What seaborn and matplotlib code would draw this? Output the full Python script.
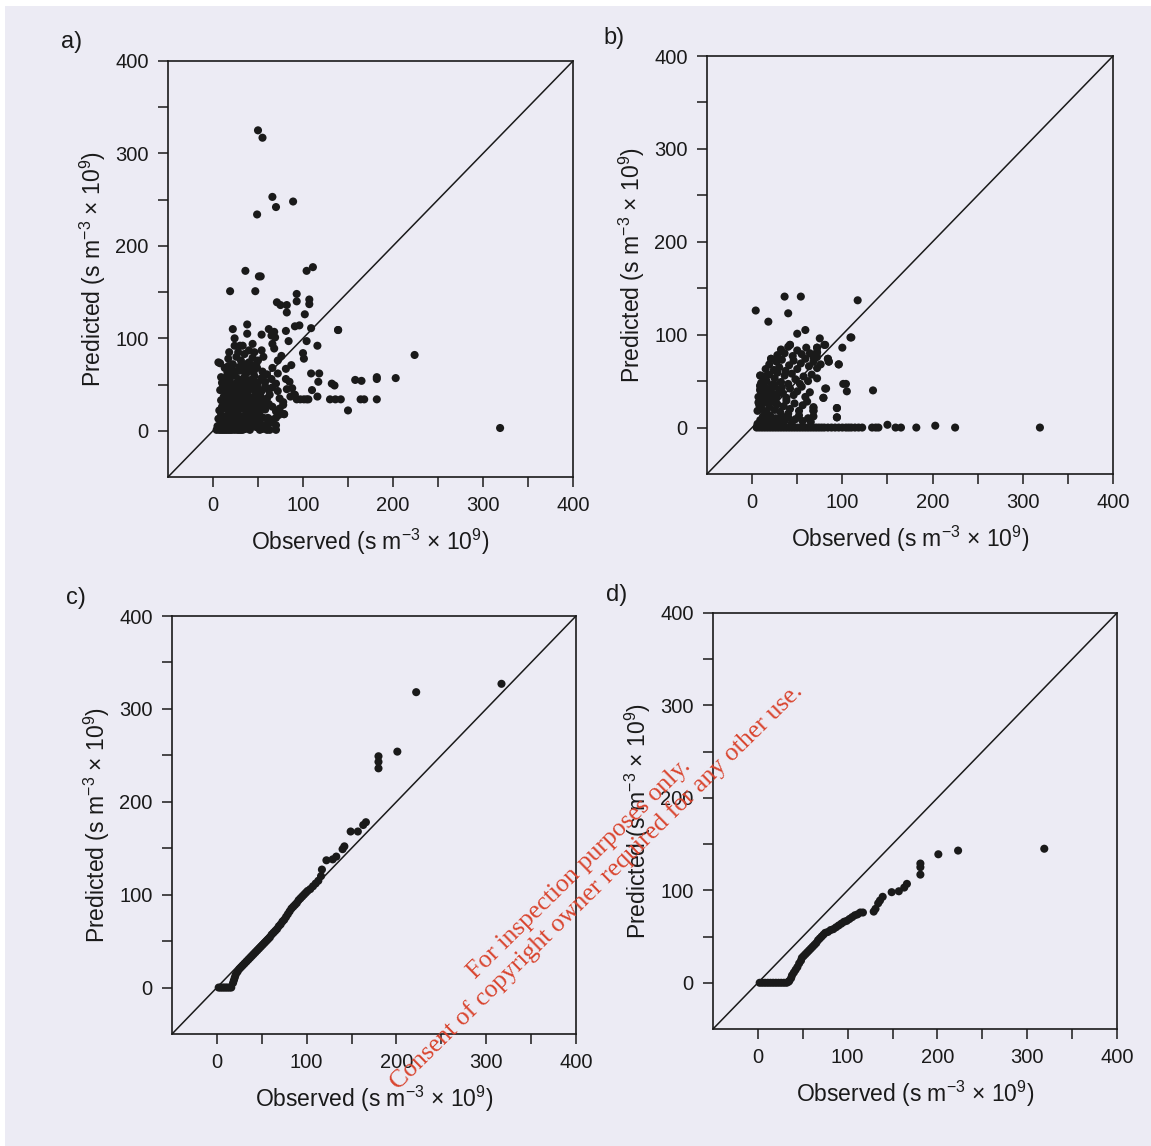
"""Observed vs predicted scatter panels (a-d) with 1:1 line."""

import matplotlib.pyplot as plt
import pandas as pd
import seaborn as sns
from matplotlib.patches import Rectangle

# ---- data (s m^-3 x 10^9) ----
# panel a: scattered cloud
a_observed = [
    50, 55, 66, 70, 89, 49, 36, 51, 53, 19, 47, 104, 111, 71, 75, 82, 82, 93, 93,
    107, 107, 102, 139, 224, 109, 118, 117, 132, 135, 158, 165, 182, 182, 203,
    110, 116, 150, 79, 93, 104, 130, 136, 142, 164, 168, 182, 319,
    4, 7, 9, 11, 13, 15, 17, 19, 21, 24, 27, 29, 31, 33, 36, 41, 52, 55, 60, 63, 70,
    5, 8, 12, 14, 18, 22, 26, 30, 34, 38, 44, 48, 52, 58, 61, 66, 70,
    6, 9, 12, 15, 19, 21, 24, 27, 31, 34, 38, 41, 45, 49, 52, 56, 61, 66, 70, 79, 73,
    7, 10, 13, 16, 18, 22, 25, 28, 30, 33, 36, 39, 42, 45, 48, 51, 55, 58, 62, 66, 70, 74, 78,
    9, 12, 15, 18, 21, 24, 27, 30, 32, 35, 38, 41, 44, 47, 50, 53, 57, 60, 63, 74, 78, 86, 91, 97, 101, 106,
    8, 11, 14, 17, 20, 23, 26, 29, 32, 35, 38, 41, 44, 47, 50, 54, 58, 62, 66, 72, 82, 88, 90,
    10, 14, 18, 21, 25, 28, 31, 35, 38, 42, 46, 50, 54, 58, 65, 70, 81, 85,
    9, 16, 20, 24, 29, 33, 37, 41, 45, 49, 55, 60, 66, 72,
    6, 8, 17, 22, 26, 31, 35, 40, 44, 48, 50, 56, 72, 76, 81, 87,
    18, 24, 28, 30, 33, 40, 44, 46, 54, 68, 66, 84, 104, 116, 100, 101,
    22, 24, 38, 38, 54, 65, 68, 69, 81, 91, 96, 109, 139, 62,
    12, 16, 20, 24, 28, 32, 36, 40, 44, 48, 14, 18, 22, 26, 30, 34, 38, 42, 46, 50,
    11, 15, 19, 23, 27, 31, 35, 39, 43, 47, 13, 17, 21, 25, 29, 33, 37, 41, 45,
]
a_predicted = [
    325, 317, 253, 242, 248, 234, 173, 167, 167, 151, 151, 173, 177, 139, 136, 136, 128, 148, 140,
    142, 137, 126, 109, 82, 62, 62, 53, 51, 49, 55, 54, 58, 56, 57,
    44, 37, 22, 18, 34, 34, 34, 34, 34, 34, 34, 34, 3,
    1, 1, 1, 1, 1, 1, 1, 1, 1, 1, 1, 1, 1, 1, 2, 1, 1, 2, 1, 1, 1,
    5, 7, 4, 8, 6, 9, 5, 7, 9, 5, 8, 4, 8, 6, 8, 9, 6,
    13, 17, 12, 16, 11, 18, 14, 19, 12, 16, 19, 13, 17, 12, 17, 14, 14, 12, 14, 18, 17,
    22, 26, 24, 29, 21, 25, 28, 22, 27, 24, 29, 21, 26, 23, 28, 21, 26, 23, 29, 26, 21, 24, 28,
    33, 37, 31, 35, 39, 32, 36, 39, 31, 35, 38, 32, 36, 39, 33, 37, 31, 35, 39, 35, 31, 37, 39, 34, 34, 34,
    44, 47, 41, 45, 49, 42, 46, 49, 43, 47, 41, 45, 49, 42, 46, 43, 48, 44, 47, 43, 45, 46, 39,
    52, 57, 54, 59, 51, 56, 53, 58, 51, 55, 59, 52, 57, 53, 56, 51, 56, 53,
    58, 63, 67, 61, 65, 69, 62, 66, 63, 68, 64, 61, 68, 62,
    74, 73, 78, 72, 80, 76, 83, 74, 79, 72, 76, 80, 76, 81, 67, 71,
    85, 92, 85, 92, 92, 87, 94, 85, 87, 89, 94, 97, 97, 92, 84, 78,
    110, 100, 105, 115, 104, 103, 107, 101, 108, 113, 114, 111, 109, 110,
    10, 8, 12, 9, 11, 7, 10, 12, 8, 11, 30, 28, 32, 29, 31, 27, 30, 33, 28, 31,
    50, 48, 52, 47, 51, 49, 53, 47, 50, 52, 68, 70, 66, 64, 69, 65, 72, 67, 70,
]

# panel b: cloud with many predictions at zero
b_observed = [
    4, 18, 36, 40, 54, 117, 50, 59, 42, 21, 9, 9, 75, 81, 72, 72, 72, 109, 110, 100,
    84, 85, 96, 101, 104, 105, 134, 82, 79, 94, 94, 68, 68,
    5, 8, 11, 14, 17, 20, 23, 26, 29, 32, 35, 38, 41, 44, 47, 50, 53, 56, 59, 62, 65, 68,
    71, 74, 77, 80, 84, 88, 92, 96, 100, 104, 107, 110, 114, 118, 122, 133, 137, 140,
    150, 159, 165, 182, 203, 225, 319,
    6, 9, 12, 14, 17, 20, 23, 26, 30, 33, 36, 40, 44, 48, 52, 56, 62, 65, 68, 94, 40,
    6, 8, 11, 13, 16, 19, 22, 25, 28, 31, 35, 38, 42, 47, 52, 56, 61, 68, 68, 79, 94,
    7, 9, 12, 14, 18, 21, 24, 27, 30, 34, 38, 42, 46, 50, 55, 59, 64, 81, 9,
    10, 13, 16, 19, 22, 25, 28, 32, 36, 40, 44, 48, 53, 57, 62, 66, 72, 9,
    15, 19, 24, 27, 30, 33, 37, 41, 46, 50, 54, 59, 63, 68, 72, 76, 84, 85, 96, 21,
    28, 32, 36, 40, 45, 50, 55, 60, 64, 68, 72, 72, 80, 42,
    6, 8, 10, 12, 14, 16, 18, 20, 22, 24, 26, 28, 30, 32,
    7, 11, 15, 19, 23, 27, 31, 9, 13, 17, 21, 25, 29, 33,
]
b_predicted = [
    126, 114, 141, 123, 141, 137, 101, 105, 89, 74, 56, 45, 96, 89, 86, 81, 76, 97, 97, 86,
    74, 71, 68, 47, 47, 39, 40, 42, 32, 21, 11, 22, 18,
    0, 0, 0, 0, 0, 0, 0, 0, 0, 0, 0, 0, 0, 0, 0, 0, 0, 0, 0, 0, 0, 0,
    0, 0, 0, 0, 0, 0, 0, 0, 0, 0, 0, 0, 0, 0, 0, 0, 0, 0,
    3, 0, 0, 0, 2, 0, 0,
    4, 8, 12, 5, 9, 13, 6, 10, 4, 12, 7, 11, 5, 9, 13, 7, 10, 6, 12, 11, 15,
    18, 24, 20, 27, 16, 22, 28, 19, 25, 17, 23, 29, 20, 26, 18, 24, 28, 21, 18, 32, 21,
    33, 40, 36, 43, 31, 38, 44, 34, 41, 37, 32, 42, 35, 39, 44, 33, 38, 42, 45,
    48, 55, 50, 57, 46, 53, 59, 49, 56, 47, 58, 52, 47, 55, 50, 57, 53, 56,
    63, 68, 62, 71, 65, 73, 61, 67, 72, 63, 69, 74, 66, 71, 64, 68, 74, 71, 68, 74,
    78, 84, 80, 87, 77, 83, 79, 86, 80, 76, 81, 86, 89, 89,
    2, 3, 6, 9, 3, 7, 10, 4, 8, 2, 6, 9, 3, 7,
    27, 30, 34, 29, 36, 32, 38, 41, 44, 39, 42, 46, 37, 43,
]

# panel c: close to the 1:1 line
c_observed = [
    2, 4, 6, 8, 10, 12, 14, 16, 18, 19, 20, 21, 23, 25, 27, 29, 31, 33, 35, 37, 39,
    41, 43, 45, 47, 49, 51, 53, 55, 57, 59, 61, 63, 65, 67, 69, 71, 73, 75, 77, 79,
    81, 83, 85, 87, 89, 91, 93, 95, 97, 99, 101, 104, 107, 110, 113, 116, 117, 122,
    129, 133, 140, 142, 149, 157, 163, 166, 180, 180, 180, 201, 222, 317,
]
c_predicted = [
    0, 0, 0, 0, 0, 0, 0, 0, 5, 8, 11, 14, 17, 20, 22, 24, 26, 28, 30, 32, 34,
    36, 38, 40, 42, 44, 46, 48, 50, 52, 54, 57, 59, 61, 63, 66, 68, 71, 73, 76, 79,
    82, 85, 87, 89, 91, 94, 96, 98, 100, 102, 104, 106, 109, 112, 115, 120, 127, 137,
    138, 141, 149, 152, 168, 168, 175, 178, 236, 243, 249, 254, 318, 327,
]

# panel d: systematically under the 1:1 line
d_observed = [
    2, 5, 8, 11, 14, 17, 20, 23, 26, 29, 32, 34, 35, 37, 38, 40, 42, 44, 46, 48, 49,
    51, 53, 55, 57, 59, 61, 63, 65, 67, 69, 71, 73, 75, 78, 81, 84, 87, 90, 93, 96,
    99, 102, 105, 108, 111, 114, 117, 129, 131, 134, 136, 139, 149, 157, 163, 166,
    181, 181, 181, 201, 223, 319,
]
d_predicted = [
    0, 0, 0, 0, 0, 0, 0, 0, 0, 0, 0, 1, 2, 5, 8, 11, 14, 17, 21, 24, 27,
    29, 31, 33, 35, 37, 39, 41, 43, 46, 48, 50, 52, 54, 55, 57, 58, 60, 62, 64, 66,
    67, 69, 71, 73, 74, 76, 76, 77, 80, 86, 89, 93, 98, 99, 103, 107,
    117, 125, 129, 139, 143, 145,
]

PANEL_LABELS = ["a)", "b)", "c)", "d)"]
TICKS = [0, 50, 100, 150, 200, 250, 300, 350, 400]
TICK_LABELS = ["0", "", "100", "", "200", "", "300", "", "400"]
XLABEL = r"Observed (s m$^{-3}$ × 10$^{9}$)"
YLABEL = r"Predicted (s m$^{-3}$ × 10$^{9}$)"
WATERMARK = "For inspection purposes only.\nConsent of copyright owner required for any other use."

PAGE = "#ecebf4"
INK = "#1a1a1a"

W, H = 1151, 1146
# axes boxes in pixels: left, top, right, bottom
BOXES = [
    (168, 61, 573, 477),
    (707, 56, 1113, 474),
    (172, 616, 576, 1034),
    (713, 613, 1117, 1029),
]
LABEL_POS = [(72, 42), (614, 38), (76, 598), (617, 595)]


def frame(obs, pred):
    return pd.DataFrame({"observed": obs, "predicted": pred})


def main():
    sns.set_style("ticks")
    plt.rcParams["font.family"] = ["Liberation Sans", "DejaVu Sans"]
    plt.rcParams["mathtext.default"] = "regular"

    fig = plt.figure(figsize=(W / 100, H / 100), dpi=100, facecolor=PAGE)
    # white scan margin at top and left
    fig.patches.append(Rectangle((0, 1 - 6 / H), 1, 6 / H, transform=fig.transFigure,
                                 facecolor="white", edgecolor="none"))
    fig.patches.append(Rectangle((0, 0), 5 / W, 1, transform=fig.transFigure,
                                 facecolor="white", edgecolor="none"))

    panels = [
        frame(a_observed, a_predicted),
        frame(b_observed, b_predicted),
        frame(c_observed, c_predicted),
        frame(d_observed, d_predicted),
    ]

    for df, box, lab, lpos in zip(panels, BOXES, PANEL_LABELS, LABEL_POS):
        l, t, r, b = box
        ax = fig.add_axes([l / W, 1 - b / H, (r - l) / W, (b - t) / H])
        ax.set_facecolor(PAGE)
        ax.plot([-50, 400], [-50, 400], color=INK, lw=1.1, zorder=1)
        sns.scatterplot(data=df, x="observed", y="predicted", ax=ax, color=INK,
                        s=34, edgecolor="none", linewidth=0, zorder=2, legend=False)
        ax.set_xlim(-50, 400)
        ax.set_ylim(-50, 400)
        ax.set_xticks(TICKS, labels=TICK_LABELS)
        ax.set_yticks(TICKS, labels=TICK_LABELS)
        ax.tick_params(direction="out", length=7, width=1.1, color=INK,
                       labelsize=14.5, labelcolor=INK, pad=7)
        for sp in ax.spines.values():
            sp.set_visible(True)
            sp.set_linewidth(1.2)
            sp.set_color(INK)
        ax.set_xlabel(XLABEL, fontsize=16.5, color=INK, labelpad=8)
        ax.set_ylabel(YLABEL, fontsize=16.5, color=INK, labelpad=5)
        fig.text(lpos[0] / W, 1 - lpos[1] / H, lab, fontsize=17, color=INK,
                 ha="center", va="center")

    fig.text(588 / W, 1 - 878 / H, WATERMARK, fontsize=18.5, color="#d9452f",
             family=["Liberation Serif", "DejaVu Serif"], rotation=44.5,
             ha="center", va="center", multialignment="center", linespacing=1.1)

    fig.savefig("out.png", dpi=100, facecolor=PAGE)


if __name__ == "__main__":
    main()
